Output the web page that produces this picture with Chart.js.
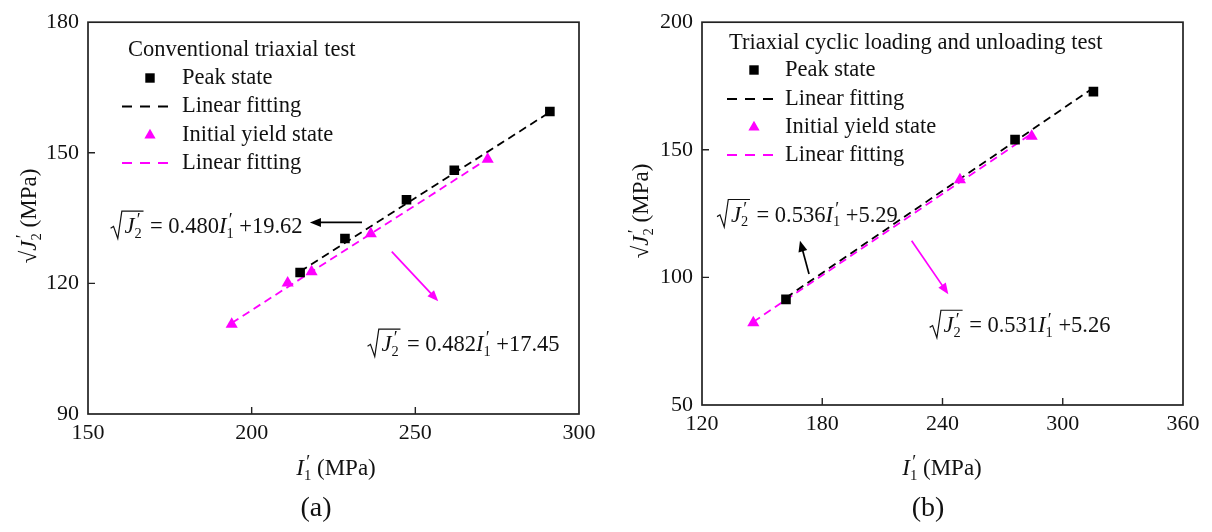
<!DOCTYPE html>
<html>
<head>
<meta charset="utf-8">
<script src="https://cdn.jsdelivr.net/npm/chart.js@4.4.1/dist/chart.umd.min.js"></script>
<style>
  html, body { margin: 0; padding: 0; background: #fff; }
  #wrap { position: relative; width: 1212px; height: 532px; }
  .panel { position: absolute; top: 0; width: 606px; height: 532px; }
</style>
</head>
<body>
<div id="wrap">
  <div class="panel" style="left:0"><canvas id="chartA" width="606" height="532"></canvas></div>
  <div class="panel" style="left:606px"><canvas id="chartB" width="606" height="532"></canvas></div>
</div>
<script>
// (a) conventional triaxial test
var convPeakI1 = [214.8, 228.5, 247.3, 261.9, 291.1];
var convPeakJ2 = [122.5, 130.3, 139.2, 146.0, 159.5];
var convYieldI1 = [193.9, 211.0, 218.3, 236.4, 272.1];
var convYieldJ2 = [110.6, 120.1, 122.7, 131.4, 148.5];
var convFitSlope = [0.480, 0.482];
var convFitIntercept = [19.62, 17.45];
var convXTicks = [150, 200, 250, 300];
var convYTicks = [90, 120, 150, 180];

// (b) triaxial cyclic loading and unloading test
var cycPeakI1 = [161.9, 276.2, 315.3];
var cycPeakJ2 = [91.4, 154.0, 172.8];
var cycYieldI1 = [145.6, 248.7, 284.5];
var cycYieldJ2 = [82.2, 138.3, 155.3];
var cycFitSlope = [0.536, 0.531];
var cycFitIntercept = [5.29, 5.26];
var cycXTicks = [120, 180, 240, 300, 360];
var cycYTicks = [50, 100, 150, 200];

var seriesLabels = ['Peak state', 'Linear fitting', 'Initial yield state', 'Linear fitting'];

var SERIF = "'Liberation Serif', 'Times New Roman', Times, serif";
var MAGENTA = '#ff00ff';

function points(xs, ys) {
  return xs.map(function (x, i) { return { x: x, y: ys[i] }; });
}

// straight fit line between the smallest and largest I1 of the series
function fitLine(xs, slope, intercept) {
  var lo = Math.min.apply(null, xs), hi = Math.max.apply(null, xs);
  return [{ x: lo, y: slope * lo + intercept }, { x: hi, y: slope * hi + intercept }];
}

function buildDatasets(px, py, yx, yy, slope, intercept) {
  return [
    { label: seriesLabels[0], data: points(px, py), pointStyle: 'rect', pointRadius: 6.8,
      backgroundColor: '#000', borderColor: '#000', borderWidth: 0, showLine: false, order: 0 },
    { label: seriesLabels[1], data: fitLine(px, slope[0], intercept[0]), showLine: true,
      borderColor: '#000', borderWidth: 1.8, borderDash: [8, 5], pointRadius: 0, order: 2 },
    { label: seriesLabels[2], data: points(yx, yy), pointStyle: 'triangle', pointRadius: 7,
      backgroundColor: MAGENTA, borderColor: MAGENTA, borderWidth: 0, showLine: false, order: 1 },
    { label: seriesLabels[3], data: fitLine(yx, slope[1], intercept[1]), showLine: true,
      borderColor: MAGENTA, borderWidth: 1.8, borderDash: [8, 5], pointRadius: 0, order: 3 }
  ];
}

// text made of runs: {t, i} plain/italic, {sub, sup} stacked index and prime
function rich(ctx, parts, x, base, size, dry) {
  var cx = x;
  parts.forEach(function (p) {
    if (p.sub !== undefined) {
      var small = size * 0.64;
      ctx.font = small + 'px ' + SERIF;
      var w1 = ctx.measureText(p.sub).width;
      if (!dry) ctx.fillText(p.sub, cx, base + size * 0.2);
      ctx.font = (size * 0.8) + 'px ' + SERIF;
      var w2 = ctx.measureText(p.sup).width + size * 0.1;
      if (!dry) ctx.fillText(p.sup, cx + size * 0.1, base - size * 0.3);
      cx += Math.max(w1, w2);
    } else {
      ctx.font = (p.i ? 'italic ' : '') + size + 'px ' + SERIF;
      if (!dry) ctx.fillText(p.t, cx, base);
      cx += ctx.measureText(p.t).width;
    }
  });
  return cx - x;
}

function drawEquation(ctx, x, cy, slope, intercept, size) {
  var base = cy + size * 0.32;
  var radicand = [{ t: 'J', i: true }, { sub: '2', sup: '\u2032' }];
  var rw = rich(ctx, radicand, 0, 0, size, true);
  var top = cy - size * 0.66;
  ctx.save();
  ctx.strokeStyle = '#111';
  ctx.lineWidth = 1.2;
  ctx.beginPath();
  ctx.moveTo(x, cy + size * 0.1);
  ctx.lineTo(x + size * 0.13, cy + size * 0.02);
  ctx.lineTo(x + size * 0.32, cy + size * 0.56);
  ctx.lineTo(x + size * 0.5, top);
  ctx.lineTo(x + size * 0.6 + rw + size * 0.1, top);
  ctx.stroke();
  ctx.restore();
  var cx = x + size * 0.62;
  cx += rich(ctx, radicand, cx, base, size);
  cx += size * 0.12;
  rich(ctx, [
    { t: ' = ' + slope.toFixed(3) }, { t: 'I', i: true }, { sub: '1', sup: '\u2032' },
    { t: ' +' + intercept.toFixed(2) }
  ], cx, base, size);
}

function drawArrow(ctx, x1, y1, x2, y2, color) {
  var a = Math.atan2(y2 - y1, x2 - x1), L = 11, W = 4.5;
  ctx.save();
  ctx.strokeStyle = color;
  ctx.fillStyle = color;
  ctx.lineWidth = 1.7;
  ctx.beginPath();
  ctx.moveTo(x1, y1);
  ctx.lineTo(x2 - Math.cos(a) * L * 0.7, y2 - Math.sin(a) * L * 0.7);
  ctx.stroke();
  ctx.beginPath();
  ctx.moveTo(x2, y2);
  ctx.lineTo(x2 - Math.cos(a) * L - Math.sin(a) * W, y2 - Math.sin(a) * L + Math.cos(a) * W);
  ctx.lineTo(x2 - Math.cos(a) * L + Math.sin(a) * W, y2 - Math.sin(a) * L - Math.cos(a) * W);
  ctx.closePath();
  ctx.fill();
  ctx.restore();
}

// frame, inward ticks, legend, axis titles and fit equations
function decor(cfg) {
  return {
    id: 'decor',
    afterDraw: function (chart) {
      var ctx = chart.ctx, area = chart.chartArea;
      var xs = chart.scales.x, ys = chart.scales.y;
      ctx.save();
      ctx.strokeStyle = '#222';
      ctx.lineWidth = 1.7;
      ctx.strokeRect(area.left, area.top, area.right - area.left, area.bottom - area.top);
      ctx.lineWidth = 1.4;
      ctx.beginPath();
      xs.ticks.forEach(function (t) {
        if (t.value === xs.min || t.value === xs.max) return;
        var p = xs.getPixelForValue(t.value);
        ctx.moveTo(p, area.bottom);
        ctx.lineTo(p, area.bottom - 7);
      });
      ys.ticks.forEach(function (t) {
        if (t.value === ys.min || t.value === ys.max) return;
        var p = ys.getPixelForValue(t.value);
        ctx.moveTo(area.left, p);
        ctx.lineTo(area.left + 7, p);
      });
      ctx.stroke();

      // legend
      var lg = cfg.legend;
      ctx.fillStyle = '#111';
      ctx.textBaseline = 'middle';
      ctx.textAlign = 'left';
      ctx.font = '22.5px ' + SERIF;
      ctx.fillText(lg.title, lg.titleX, lg.titleY);
      chart.data.datasets.forEach(function (ds, i) {
        var y = lg.rows[i];
        if (ds.showLine) {
          ctx.save();
          ctx.strokeStyle = ds.borderColor;
          ctx.lineWidth = 1.8;
          ctx.setLineDash([10, 8]);
          ctx.beginPath();
          ctx.moveTo(lg.dash[0], y);
          ctx.lineTo(lg.dash[1], y);
          ctx.stroke();
          ctx.restore();
        } else if (ds.pointStyle === 'rect') {
          ctx.fillStyle = ds.backgroundColor;
          ctx.fillRect(lg.markX - 4.7, y - 4.7, 9.4, 9.4);
        } else {
          ctx.fillStyle = ds.backgroundColor;
          ctx.beginPath();
          ctx.moveTo(lg.markX, y - 6.2);
          ctx.lineTo(lg.markX + 5.6, y + 3.6);
          ctx.lineTo(lg.markX - 5.6, y + 3.6);
          ctx.closePath();
          ctx.fill();
        }
        ctx.fillStyle = '#111';
        ctx.font = '22.5px ' + SERIF;
        ctx.fillText(ds.label, lg.textX, y);
      });

      // fit equations with their arrows
      ctx.textBaseline = 'alphabetic';
      cfg.equations.forEach(function (eq) {
        ctx.fillStyle = '#111';
        drawEquation(ctx, xs.getPixelForValue(eq.at[0]), ys.getPixelForValue(eq.at[1]),
          cfg.slope[eq.fit], cfg.intercept[eq.fit], 22.5);
        drawArrow(ctx, xs.getPixelForValue(eq.arrow[0]), ys.getPixelForValue(eq.arrow[1]),
          xs.getPixelForValue(eq.arrow[2]), ys.getPixelForValue(eq.arrow[3]), eq.color);
      });

      // axis titles
      ctx.fillStyle = '#111';
      var xt = [{ t: 'I', i: true }, { sub: '1', sup: '\u2032' }, { t: ' (MPa)' }];
      var w = rich(ctx, xt, 0, 0, 23, true);
      rich(ctx, xt, cfg.xTitle[0] - w / 2, cfg.xTitle[1] + 8, 23);

      var yt = [{ t: '\u221A' }, { t: 'J', i: true }, { sub: '2', sup: '\u2032' }, { t: ' (MPa)' }];
      ctx.save();
      ctx.translate(cfg.yTitle[0], cfg.yTitle[1]);
      ctx.rotate(-Math.PI / 2);
      w = rich(ctx, yt, 0, 0, 23, true);
      rich(ctx, yt, -w / 2, 8, 23);
      ctx.restore();

      ctx.font = '28px ' + SERIF;
      ctx.textAlign = 'center';
      ctx.textBaseline = 'middle';
      ctx.fillText(cfg.tag, cfg.tagAt[0], cfg.tagAt[1]);
      ctx.restore();
    }
  };
}

function makeChart(id, datasets, xTicks, yTicks, box, cfg) {
  var tickFont = { family: SERIF, size: 22 };
  return new Chart(document.getElementById(id).getContext('2d'), {
    type: 'scatter',
    data: { datasets: datasets },
    options: {
      responsive: false,
      animation: false,
      events: [],
      layout: { padding: { left: 0, top: box.top, right: box.right, bottom: 0 } },
      plugins: { legend: { display: false }, tooltip: { enabled: false } },
      scales: {
        x: {
          type: 'linear',
          min: xTicks[0],
          max: xTicks[xTicks.length - 1],
          afterBuildTicks: function (s) { s.ticks = xTicks.map(function (v) { return { value: v }; }); },
          afterFit: function (s) { s.height = box.xAxis; },
          grid: { display: false, drawTicks: false },
          border: { display: false },
          ticks: { font: tickFont, color: '#111', padding: 6, maxRotation: 0, autoSkip: false }
        },
        y: {
          type: 'linear',
          min: yTicks[0],
          max: yTicks[yTicks.length - 1],
          afterBuildTicks: function (s) { s.ticks = yTicks.map(function (v) { return { value: v }; }); },
          afterFit: function (s) { s.width = box.yAxis; },
          grid: { display: false, drawTicks: false },
          border: { display: false },
          ticks: { font: tickFont, color: '#111', padding: 9, autoSkip: false }
        }
      }
    },
    plugins: [decor(cfg)]
  });
}

makeChart('chartA',
  buildDatasets(convPeakI1, convPeakJ2, convYieldI1, convYieldJ2, convFitSlope, convFitIntercept),
  convXTicks, convYTicks,
  { top: 18, right: 27, xAxis: 118, yAxis: 88 },
  {
    slope: convFitSlope, intercept: convFitIntercept,
    legend: { title: 'Conventional triaxial test', titleX: 128, titleY: 50,
              markX: 150, dash: [122, 168], textX: 182, rows: [78, 106.5, 135, 163] },
    equations: [
      { fit: 0, at: [156.9, 133.2], arrow: [233.7, 134.0, 217.8, 134.0], color: '#000' },
      { fit: 1, at: [235.4, 106.1], arrow: [242.8, 127.3, 257.0, 115.9], color: MAGENTA }
    ],
    xTitle: [336, 467], yTitle: [28, 216], tag: '(a)', tagAt: [316, 509]
  });

makeChart('chartB',
  buildDatasets(cycPeakI1, cycPeakJ2, cycYieldI1, cycYieldJ2, cycFitSlope, cycFitIntercept),
  cycXTicks, cycYTicks,
  { top: 17, right: 29, xAxis: 127, yAxis: 96 },
  {
    slope: cycFitSlope, intercept: cycFitIntercept,
    legend: { title: 'Triaxial cyclic loading and unloading test', titleX: 123, titleY: 43,
              markX: 148, dash: [121, 167], textX: 179, rows: [70, 99, 127, 155] },
    equations: [
      { fit: 0, at: [127.5, 124.7], arrow: [173.4, 101.3, 168.9, 114.4], color: '#000' },
      { fit: 1, at: [233.6, 81.3], arrow: [224.6, 114.4, 242.9, 93.4], color: MAGENTA }
    ],
    xTitle: [336, 467], yTitle: [34, 211], tag: '(b)', tagAt: [322, 509]
  });
</script>
</body>
</html>
